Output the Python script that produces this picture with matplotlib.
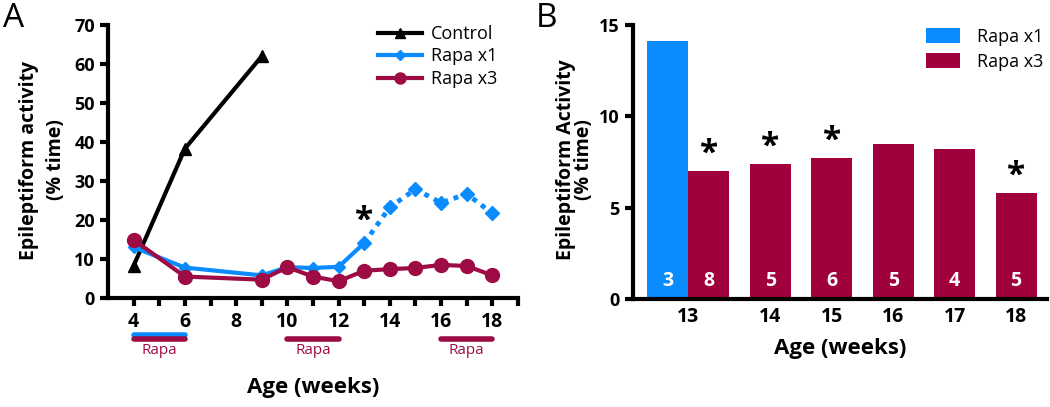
import matplotlib
matplotlib.use("Agg")
from matplotlib import pyplot as plt
from matplotlib.lines import Line2D
import numpy as np

plt.rcParams['font.family'] = ['Open Sans', 'DejaVu Sans']

# ---- panel A data
ctrl_weeks = [4, 6, 9]
ctrl_vals = [8.3, 38.3, 62.0]
weeks = [4, 6, 9, 10, 11, 12, 13, 14, 15, 16, 17, 18]
x1_vals = [13.0, 7.8, 5.8, 7.9, 7.7, 8.0, 14.1, 23.3, 27.9, 24.4, 26.7, 21.7]
x3_vals = [14.9, 5.5, 4.7, 7.9, 5.5, 4.3, 7.0, 7.4, 7.7, 8.5, 8.2, 5.8]
rapa_x1_periods = [(4, 6)]
rapa_x3_periods = [(4, 6), (10, 12), (16, 18)]

# ---- panel B data
bar_weeks = ['13', '14', '15', '16', '17', '18']
bar_x1 = 14.1
bar_x1_n = 3
bar_x3 = [7.0, 7.4, 7.7, 8.5, 8.2, 5.8]
bar_x3_n = [8, 5, 6, 5, 4, 5]
bar_sig = [True, True, True, False, False, True]

blue = '#0a8cff'
red = '#a0003c'
lred = '#9e0c46'

fig = plt.figure(figsize=(10.5, 4.07), dpi=100)

def style_axis(ax):
    for s in ['top', 'right']:
        ax.spines[s].set_visible(False)
    for s in ['left', 'bottom']:
        ax.spines[s].set_linewidth(3)
    ax.tick_params(width=3, length=6, direction='out')

# ================= Panel A
axA = fig.add_axes([0.1029, 0.2678, 0.3904, 0.6708])
style_axis(axA)
axA.plot(ctrl_weeks, ctrl_vals, color='black', lw=3, marker='^', ms=9, clip_on=False)
# Rapa x1: solid to week 13, dotted after
i13 = weeks.index(13)
axA.plot(weeks[:i13 + 1], x1_vals[:i13 + 1], color=blue, lw=3, marker='D', ms=6, clip_on=False)
axA.plot(weeks[i13:], x1_vals[i13:], color=blue, lw=3.5, ls=(0, (1, 1.2)), marker='D', ms=7, clip_on=False)
axA.plot(weeks, x3_vals, color=lred, lw=3, marker='o', ms=10, clip_on=False)
axA.text(13, 17.5, '*', fontsize=24, fontweight='bold', ha='center', va='baseline')

axA.set_xlim(3, 19)
axA.set_ylim(0, 70)
axA.set_xticks(np.arange(4, 20, 1))
axA.set_xticklabels([str(w) if w % 2 == 0 and w <= 18 else '' for w in range(4, 20)],
                    fontsize=14, fontweight='bold')
axA.set_yticks(np.arange(0, 71, 10))
axA.set_yticklabels([str(v) for v in range(0, 71, 10)], fontsize=13, fontweight='bold')
axA.tick_params(axis='x', pad=4)

handles = [Line2D([], [], color='black', lw=3, marker='^', ms=7),
           Line2D([], [], color=blue, lw=3, marker='D', ms=5),
           Line2D([], [], color=lred, lw=3, marker='o', ms=8)]
axA.legend(handles, ['Control', 'Rapa x1', 'Rapa x3'], loc='upper left',
           bbox_to_anchor=(0.62, 1.06), frameon=False, fontsize=13,
           handlelength=2.4, handletextpad=0.5, labelspacing=0.25)

# Rapa treatment bars under the x axis
trans = axA.get_xaxis_transform()
for (a, b) in rapa_x1_periods:
    axA.plot([a, b], [-0.135, -0.135], color=blue, lw=4, transform=trans, clip_on=False,
             solid_capstyle='round')
for (a, b) in rapa_x3_periods:
    axA.plot([a, b], [-0.15, -0.15], color=lred, lw=4, transform=trans, clip_on=False,
             solid_capstyle='round')
    axA.text((a + b) / 2, -0.165, 'Rapa', color=lred, fontsize=11, ha='center', va='top',
             transform=trans)

fig.text(0.298, 0.047, 'Age (weeks)', fontsize=16, fontweight='bold', ha='center', va='center')
fig.text(0.0275, 0.607, 'Epileptiform activity', rotation=90, fontsize=14, fontweight='bold',
         ha='center', va='center')
fig.text(0.0535, 0.607, '(% time)', rotation=90, fontsize=14, fontweight='bold',
         ha='center', va='center')

# ================= Panel B
axB = fig.add_axes([0.6029, 0.2654, 0.3941, 0.6732])
style_axis(axB)
w = 0.667
pos = np.arange(len(bar_weeks), dtype=float)
axB.bar(-w, bar_x1, width=w, color=blue, label='Rapa x1')
axB.bar(pos, bar_x3, width=w, color=red, label='Rapa x3')
axB.text(-w, 0.45, str(bar_x1_n), color='white', fontsize=14, fontweight='bold', ha='center', va='bottom')
for p, v, n, s in zip(pos, bar_x3, bar_x3_n, bar_sig):
    axB.text(p, 0.45, str(n), color='white', fontsize=14, fontweight='bold', ha='center', va='bottom')
    if s:
        axB.text(p, v + 0.45, '*', fontsize=24, fontweight='bold', ha='center', va='baseline')

ticks = [-w / 2] + list(pos[1:])
axB.set_xticks(ticks)
axB.set_xticklabels(bar_weeks, fontsize=14, fontweight='bold')
axB.tick_params(axis='x', length=0, pad=6)
axB.set_xlim(-1.23, 5.5)
axB.set_ylim(0, 15)
axB.set_yticks([0, 5, 10, 15])
axB.set_yticklabels(['0', '5', '10', '15'], fontsize=13, fontweight='bold')
axB.set_xlabel('Age (weeks)', fontsize=16, fontweight='bold', labelpad=8)
axB.legend(loc='upper right', bbox_to_anchor=(1.03, 1.05), frameon=False, fontsize=13,
           handlelength=1.9, handleheight=0.95, handletextpad=0.9, labelspacing=0.4)
fig.text(0.539, 0.607, 'Epileptiform Activity', rotation=90, fontsize=14, fontweight='bold',
         ha='center', va='center')
fig.text(0.5565, 0.607, '(% time)', rotation=90, fontsize=14, fontweight='bold',
         ha='center', va='center')

fig.text(0.003, 0.995, 'A', fontsize=24, ha='left', va='top')
fig.text(0.510, 0.995, 'B', fontsize=24, ha='left', va='top')

fig.savefig('out.png', dpi=100)
